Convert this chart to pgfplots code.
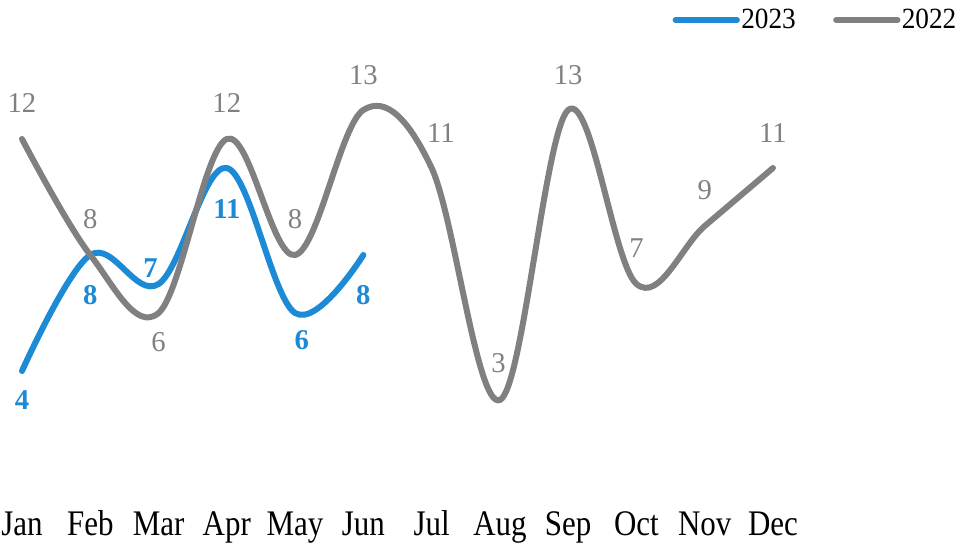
\documentclass[border=0pt]{standalone}
\usepackage{fontspec}
\setmainfont{Liberation Serif}
\newfontfamily\tickfont{Liberation Serif}[FakeStretch=0.86]
\newfontfamily\legfont{Liberation Serif}[FakeStretch=0.93]
\usepackage{pgfplots}
\pgfplotsset{compat=1.18}
\usepackage{pgfplotstable}
\definecolor{blue23}{RGB}{28,138,212}
\definecolor{gray22}{RGB}{128,128,128}

% x, y, label shift (pt), label text
\pgfplotstableread{
x y dx dy lab
0 4  0    -22 4
1 8  0    -30 8
2 7  -6   12  7
3 11 0    -31 11
4 6  5    -20 6
5 8  0    -30 8
}\dataA
\pgfplotstableread{
x y dx dy lab
0  12 0  27  12
1  8  0  27  8
2  6  0  -22 6
3  12 0  27  12
4  8  0  27  8
5  13 0  26  13
6  11 7  26  11
7  3  -1 28  3
8  13 0  26  13
9  7  0  27  7
10 9  0  27  9
11 11 0  26  11
}\dataB

\begin{document}
\begin{tikzpicture}
\begin{axis}[name=ax,
    scale only axis,
    width=563.25pt, height=282.75pt,
    xmin=0, xmax=11, ymin=0, ymax=13,
    clip=false,
    axis line style={draw=none},
    tick style={draw=none},
    major tick length=0pt,
    ytick=\empty,
    xtick={0,...,11},
    xticklabels={Jan,Feb,Mar,Apr,May,Jun,Jul,Aug,Sep,Oct,Nov,Dec},
    xticklabel style={font=\tickfont\fontsize{27}{28}\selectfont, anchor=base, yshift=-36.75pt},
    legend columns=2,
    legend style={draw=none, fill=none, at={(1.2463,1.2387)}, anchor=east,
        font=\legfont\fontsize{22}{24}\selectfont, inner sep=0pt,
        nodes={inner sep=1pt},
        /tikz/every even column/.append style={column sep=27pt}},
    legend image code/.code={\draw[#1, line width=4.5pt, line cap=round] (0pt,0pt) -- (46pt,0pt);},
    every axis plot/.append style={line width=4.5pt, line cap=round, smooth, tension=0.6},
    nodes near coords,
    point meta=explicit symbolic,
    visualization depends on={\thisrow{dx} \as \dx},
    visualization depends on={\thisrow{dy} \as \dy},
    every node near coord/.append style={anchor=center, xshift=\dx pt, yshift=\dy pt,
        inner sep=0pt},
]
\addplot[blue23, nodes near coords style={font=\bfseries\fontsize{21.5}{22}\selectfont, text=blue23}]
    table[x=x, y=y, meta=lab] {\dataA};
\addlegendentry{2023}
\addplot[gray22, nodes near coords style={font=\fontsize{21.5}{22}\selectfont, text=gray22}]
    table[x=x, y=y, meta=lab] {\dataB};
\addlegendentry{2022}
\end{axis}
\pgfresetboundingbox
\path[use as bounding box] ([xshift=-16.5pt,yshift=-43.5pt]ax.south west)
    rectangle ([xshift=138.75pt,yshift=82.5pt]ax.north east);
\end{tikzpicture}
\end{document}
